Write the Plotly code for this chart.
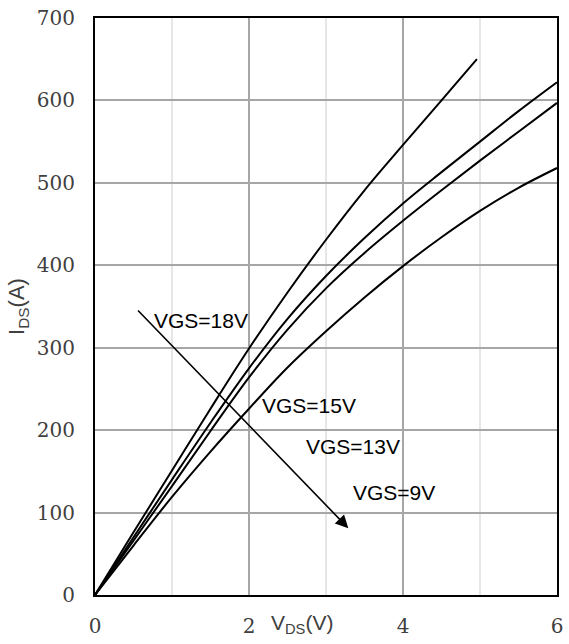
import plotly.graph_objects as go

# Data
vds_18 = [0, 0.5, 1, 1.5, 2, 2.5, 3, 3.5, 4, 4.5, 4.96]
ids_18 = [0, 76, 151, 226, 299, 367, 431, 491, 546, 600, 650]

vds_all = [0, 0.5, 1, 1.5, 2, 2.5, 3, 3.5, 4, 4.5, 5, 5.5, 6]
ids_15 = [0, 70, 140, 209, 275, 335, 387, 433, 475, 513, 550, 587, 622]
ids_13 = [0, 66, 132, 199, 264, 322, 372, 415, 454, 491, 527, 562, 597]
ids_9 = [0, 60, 119, 174, 226, 276, 320, 361, 399, 434, 466, 494, 518]

x_ticks = [0, 2, 4, 6]
y_ticks = [0, 100, 200, 300, 400, 500, 600, 700]

labels = ["VGS=18V", "VGS=15V", "VGS=13V", "VGS=9V"]
label_x = [0.74, 2.14, 2.72, 3.32]
label_y = [333, 230, 180, 124]

arrow_start = (0.54, 347)
arrow_end = (3.29, 81)

SERIF = "DejaVu Serif"

fig = go.Figure()
for xs, ys in [(vds_18, ids_18), (vds_all, ids_15), (vds_all, ids_13), (vds_all, ids_9)]:
    fig.add_trace(go.Scatter(x=xs, y=ys, mode="lines", line=dict(color="black", width=2, shape="spline", smoothing=1),
                             showlegend=False, hoverinfo="skip"))

for t, lx, ly in zip(labels, label_x, label_y):
    fig.add_annotation(x=lx, y=ly, xref="x", yref="y", text=t, showarrow=False, xanchor="left", yanchor="middle",
                       font=dict(family="Liberation Sans", size=21, color="black"))

fig.add_annotation(x=arrow_end[0], y=arrow_end[1], ax=arrow_start[0], ay=arrow_start[1], xref="x", yref="y",
                   axref="x", ayref="y", text="", showarrow=True, arrowhead=2, arrowsize=1.6, arrowwidth=1.6,
                   arrowcolor="black", standoff=0)

fig.add_annotation(x=2.26, y=-0.05, xref="x", yref="paper", text="V<sub>DS</sub>(V)", showarrow=False,
                   xanchor="left", yanchor="middle",
                   font=dict(family="Liberation Sans", size=21, color="#404040"))

fig.update_layout(
    width=569, height=644,
    margin=dict(l=95, r=6, t=16, b=47),
    plot_bgcolor="white", paper_bgcolor="white",
    showlegend=False,
)
fig.update_xaxes(range=[0, 6], tickvals=x_ticks, ticktext=[str(v) for v in x_ticks],
                 showgrid=True, gridcolor="#a6a6a6", gridwidth=1.5,
                 minor=dict(dtick=1, showgrid=True, gridcolor="#e6e6e6", gridwidth=1.5),
                 showline=True, linecolor="black", linewidth=2, mirror=True, zeroline=False,
                 ticks="", ticklabelstandoff=12,
                 tickfont=dict(family=SERIF, size=20, color="#404040"))
fig.update_yaxes(range=[0, 700], tickvals=y_ticks, ticktext=[str(v) for v in y_ticks],
                 showgrid=True, gridcolor="#a6a6a6", gridwidth=1.5,
                 showline=True, linecolor="black", linewidth=2, mirror=True, zeroline=False,
                 ticks="", ticklabelstandoff=14,
                 tickfont=dict(family=SERIF, size=20, color="#404040"),
                 title=dict(text="I<sub>DS</sub>(A)", standoff=6,
                            font=dict(family="Liberation Sans", size=22, color="#404040")))

fig.write_html("out.html")
